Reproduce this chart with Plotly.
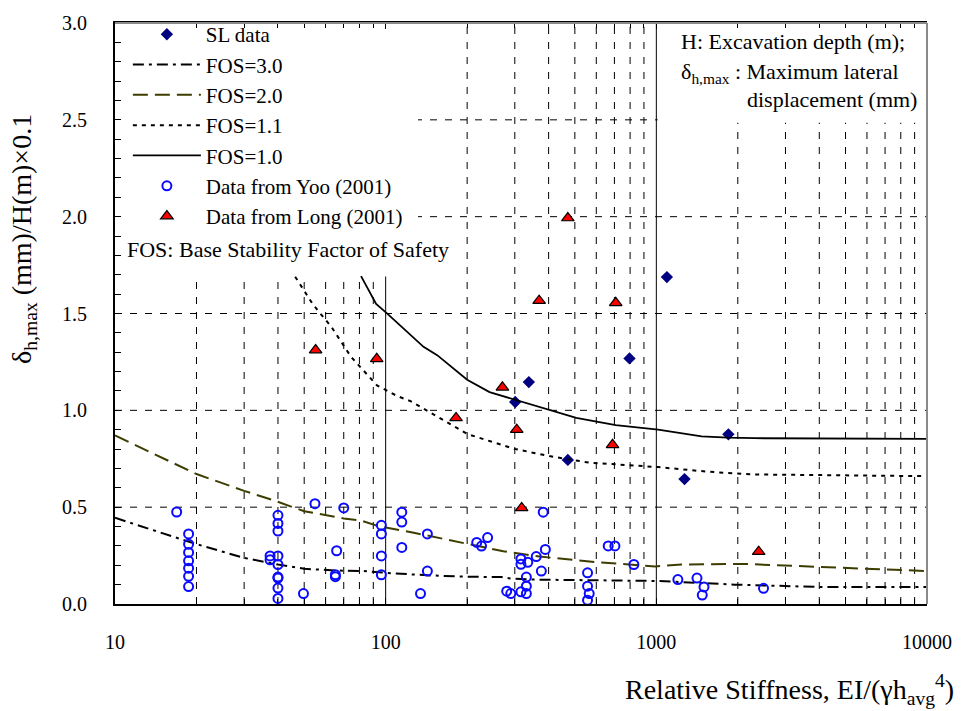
import math
import plotly.graph_objects as go

# ---------------- data ----------------
sl_x = [1094, 796, 338, 301, 471, 1846, 1271]
sl_y = [1.688, 1.268, 1.146, 1.043, 0.744, 0.876, 0.645]

long_x = [55.1, 92.7, 182, 270, 305, 318, 369, 471, 708, 689, 2389]
long_y = [1.311, 1.266, 0.961, 1.119, 0.900, 0.496, 1.566, 1.993, 1.555, 0.822, 0.270]

yoo_x = [16.9,
         18.7, 18.7, 18.7, 18.7, 18.7, 18.7, 18.7,
         40, 40, 40, 40, 40, 40, 40, 40, 40,
         37.4, 37.4, 49.7, 54.8, 70, 65.9, 65.2, 65.2,
         96.4, 96.4, 96.4, 96.4, 114.7, 114.7, 114.7,
         142.6, 142.6, 134.5, 217, 226, 238, 280, 290,
         316, 316, 335, 331, 331, 316, 331,
         360, 389, 376, 382,
         557, 557, 565, 557, 664, 703, 826,
         1201, 1413, 1500, 1478, 2489]
yoo_y = [0.475,
         0.362, 0.309, 0.266, 0.223, 0.185, 0.143, 0.090,
         0.458, 0.416, 0.377, 0.248, 0.204, 0.139, 0.134, 0.082, 0.029,
         0.248, 0.228, 0.054, 0.518, 0.496, 0.275, 0.151, 0.141,
         0.406, 0.362, 0.248, 0.151, 0.474, 0.423, 0.292,
         0.362, 0.170, 0.054, 0.318, 0.299, 0.343, 0.066, 0.054,
         0.233, 0.205, 0.215, 0.139, 0.092, 0.063, 0.054,
         0.245, 0.282, 0.170, 0.474,
         0.161, 0.092, 0.054, 0.020, 0.300, 0.300, 0.204,
         0.126, 0.134, 0.088, 0.046, 0.081]

fos30_x = [10, 20, 30, 40, 50, 65, 83, 100, 143, 200, 268, 290, 350, 550, 1000, 1950, 3970, 10000]
fos30_y = [0.445, 0.309, 0.238, 0.204, 0.182, 0.173, 0.170, 0.161, 0.148, 0.141, 0.139, 0.131,
           0.126, 0.122, 0.119, 0.100, 0.088, 0.088]

fos20_x = [10, 20, 30, 39, 50, 70, 81, 94, 127, 200, 272, 370, 615, 990, 1240, 2100, 3060, 3970, 5970, 10000]
fos20_y = [0.870, 0.671, 0.584, 0.533, 0.479, 0.442, 0.431, 0.402, 0.368, 0.309, 0.272, 0.245,
           0.215, 0.194, 0.204, 0.207, 0.199, 0.190, 0.182, 0.170]

fos11_x = [46.3, 53.3, 56.2, 63.1, 74.4, 92.9, 110.6, 123.5, 200, 299, 402, 564, 1015, 1550, 2300, 10000]
fos11_y = [1.690, 1.557, 1.515, 1.430, 1.277, 1.129, 1.073, 1.048, 0.878, 0.801, 0.764, 0.730,
           0.707, 0.683, 0.669, 0.660]

fos10_x = [81.1, 92.2, 101.6, 113.3, 138, 155, 200, 242, 322, 402, 506, 708, 1015, 1470, 1840, 2300, 10000]
fos10_y = [1.693, 1.549, 1.498, 1.438, 1.328, 1.285, 1.158, 1.094, 1.043, 1.002, 0.961, 0.924,
           0.900, 0.866, 0.859, 0.856, 0.853]

x_major = [10, 100, 1000, 10000]
x_major_text = ["10", "100", "1000", "10000"]
x_minor = [m * d for d in (10, 100, 1000) for m in range(2, 10)]
y_ticks = [0.0, 0.5, 1.0, 1.5, 2.0, 2.5, 3.0]

FONT = "Liberation Serif, Times New Roman, serif"

fig = go.Figure()

fig.add_trace(go.Scatter(x=sl_x, y=sl_y, mode="markers", name="SL data",
                         marker=dict(symbol="diamond", size=9.5, color="#000080",
                                     line=dict(width=0))))
fig.add_trace(go.Scatter(x=fos30_x, y=fos30_y, mode="lines", name="FOS=3.0",
                         line=dict(color="black", width=2, dash="11px,5px,3px,5px")))
fig.add_trace(go.Scatter(x=fos20_x, y=fos20_y, mode="lines", name="FOS=2.0",
                         line=dict(color="#3d3d00", width=2, dash="15px,7px")))
fig.add_trace(go.Scatter(x=fos11_x, y=fos11_y, mode="lines", name="FOS=1.1",
                         line=dict(color="black", width=2, dash="4px,5px")))
fig.add_trace(go.Scatter(x=fos10_x, y=fos10_y, mode="lines", name="FOS=1.0",
                         line=dict(color="black", width=1.8)))
fig.add_trace(go.Scatter(x=yoo_x, y=yoo_y, mode="markers", name="Data from Yoo (2001)",
                         marker=dict(symbol="circle-open", size=9, color="#0a0aff",
                                     line=dict(width=2, color="#0a0aff"))))
fig.add_trace(go.Scatter(x=long_x, y=long_y, mode="markers", name="Data from Long (2001)",
                         marker=dict(symbol="triangle-up", size=11, color="#ff0000",
                                     line=dict(width=1.2, color="black"))))

L, R, T, B = 115, 935, 15, 604
W, H = 964, 711


def px(xp):
    return (xp - L) / (R - L)


def py(yp):
    return (B - yp) / (B - T)


def fx(v):
    return (math.log10(v) - 1) / 3


def fy(v):
    return v / 3


GRID_DASH = "7px,8px"
shapes = []
# vertical grid (minor: dashed, decades: solid)
for v in x_minor:
    shapes.append(dict(type="line", xref="paper", yref="paper", x0=fx(v), x1=fx(v), y0=0, y1=1,
                       line=dict(color="black", width=1, dash=GRID_DASH), layer="below"))
for v in x_major[1:-1]:
    shapes.append(dict(type="line", xref="paper", yref="paper", x0=fx(v), x1=fx(v), y0=0, y1=1,
                       line=dict(color="black", width=1), layer="below"))
# horizontal grid (dashed)
for v in y_ticks[1:-1]:
    shapes.append(dict(type="line", xref="paper", yref="paper", x0=0, x1=1, y0=fy(v), y1=fy(v),
                       line=dict(color="black", width=1, dash=GRID_DASH), layer="below"))
# white boxes behind the legend and the note (hide the grid there)
shapes += [
    dict(type="rect", xref="paper", yref="paper", x0=0, x1=px(421), y0=py(272), y1=1,
         fillcolor="white", line=dict(width=0), layer="below"),
    dict(type="rect", xref="paper", yref="paper", x0=px(663), x1=1, y0=py(116), y1=1,
         fillcolor="white", line=dict(width=0), layer="below"),
    # grey frame top / right
    dict(type="line", xref="paper", yref="paper", x0=0, x1=1, y0=1, y1=1,
         line=dict(color="#8a8a8a", width=2), layer="above"),
    dict(type="line", xref="paper", yref="paper", x0=1, x1=1, y0=0, y1=1,
         line=dict(color="#8a8a8a", width=2), layer="above"),
]

ann_font = dict(family=FONT, size=22, color="black")
title_font = dict(family=FONT, size=28, color="black")
annotations = [
    dict(xref="paper", yref="paper", x=px(125), y=py(245), xanchor="left", yanchor="middle",
         text="FOS: Base Stability Factor of Safety", showarrow=False, font=ann_font),
    dict(xref="paper", yref="paper", x=px(685), y=py(34), xanchor="left", yanchor="middle",
         text="H: Excavation depth (m);", showarrow=False, font=ann_font),
    dict(xref="paper", yref="paper", x=px(685), y=py(66), xanchor="left", yanchor="middle",
         text="δ<sub>h,max</sub> : Maximum lateral", showarrow=False, font=ann_font),
    dict(xref="paper", yref="paper", x=px(751), y=py(93), xanchor="left", yanchor="middle",
         text="displacement (mm)", showarrow=False, font=ann_font),
    dict(xref="paper", yref="paper", x=px(22), y=py(234), xanchor="center", yanchor="middle",
         textangle=-90, text="δ<sub>h,max</sub> (mm)/H(m)×0.1", showarrow=False, font=title_font),
    dict(xref="paper", yref="paper", x=px(964), y=py(691), xanchor="right", yanchor="middle",
         text="Relative Stiffness, EI/(γh<sub>avg</sub><sup>4</sup>)", showarrow=False,
         font=title_font),
]

fig.update_layout(
    width=W, height=H,
    margin=dict(l=L, r=W - R, t=T, b=H - B, pad=0),
    paper_bgcolor="white", plot_bgcolor="white",
    font=dict(family=FONT, size=20, color="black"),
    showlegend=True,
    legend=dict(x=px(128), y=1 + 9 / (B - T), xanchor="left", yanchor="top",
                bgcolor="rgba(0,0,0,0)", borderwidth=0, itemwidth=68,
                font=dict(family=FONT, size=21, color="black"),
                traceorder="normal"),
    shapes=shapes,
    annotations=annotations,
)

fig.update_xaxes(
    type="log", range=[1, 4],
    tickmode="array", tickvals=x_major, ticktext=x_major_text,
    ticks="inside", ticklen=6, tickcolor="black", tickwidth=1,
    showline=True, linecolor="black", linewidth=2, mirror="ticks",
    showgrid=False,
    minor=dict(tickmode="array", tickvals=x_minor, ticks="inside", ticklen=5,
               tickcolor="black", showgrid=False),
    ticklabelstandoff=19,
    tickfont=dict(family=FONT, size=20, color="black"),
    zeroline=False,
)
fig.update_yaxes(
    range=[0, 3],
    tickmode="array", tickvals=y_ticks, tickformat=".1f",
    ticks="inside", ticklen=6, tickcolor="black", tickwidth=1,
    showline=True, linecolor="black", linewidth=2, mirror=False,
    showgrid=False,
    minor=dict(dtick=0.1, ticks="inside", ticklen=6, tickcolor="black", showgrid=False),
    ticklabelstandoff=22,
    tickfont=dict(family=FONT, size=20, color="black"),
    zeroline=False,
)

fig.write_html("out.html")
